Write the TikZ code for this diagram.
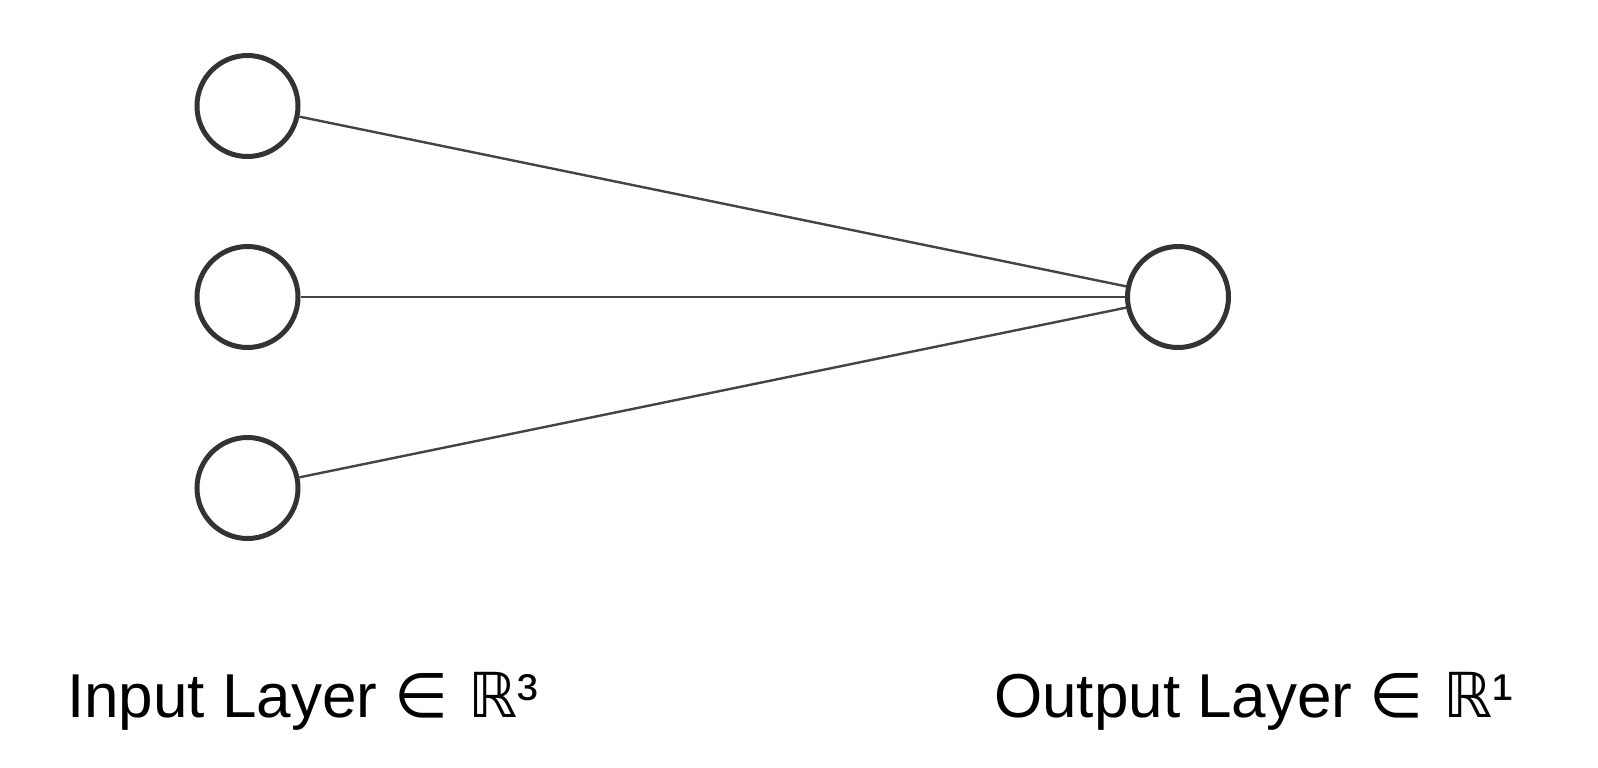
\documentclass[tikz,border=0pt]{standalone}
\usepackage{fontspec}
\setmainfont{Liberation Sans}
\newfontfamily\symfont{DejaVu Sans}
\definecolor{nodegray}{HTML}{333333}
\definecolor{edgegray}{HTML}{444444}
\begin{document}
\begin{tikzpicture}[x=1pt,y=-1pt,
  neuron/.style={circle,draw=nodegray,line width=5pt,minimum size=101pt,inner sep=0pt,fill=white},
  edge/.style={draw=edgegray,line width=2.4pt},
  label/.style={font=\fontsize{62}{74}\selectfont,anchor=base west,inner sep=0pt}]
\useasboundingbox (0,0) rectangle (1598,768);
\fill[white] (0,0) rectangle (1598,768);
\node[neuron] (i1) at (247.5,106) {};
\node[neuron] (i2) at (247.5,297) {};
\node[neuron] (i3) at (247.5,488) {};
\node[neuron] (o1) at (1178,297) {};
\draw[edge] (i1) -- (o1);
\draw[edge] (i2) -- (o1);
\draw[edge] (i3) -- (o1);
\node[label] (tin) at (67,717) {Input Layer {\symfont ∈ ℝ}³};
\node[label] (tout) at (994,717) {Output Layer {\symfont ∈ ℝ}¹};
\end{tikzpicture}
\end{document}
